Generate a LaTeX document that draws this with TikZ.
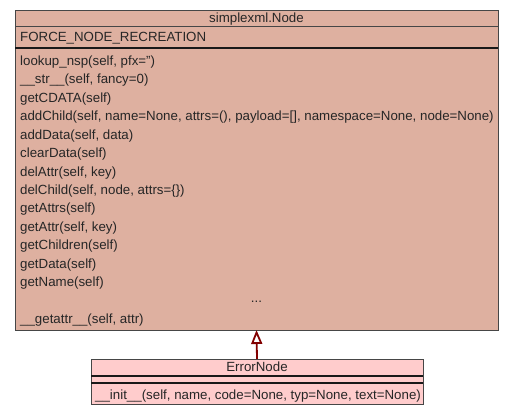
\documentclass[tikz,border=0pt]{standalone}
\usepackage{fontspec}
\setmainfont{Liberation Sans}
\usetikzlibrary{arrows.meta}
\definecolor{mainfill}{RGB}{222,176,160}
\definecolor{errfill}{RGB}{255,204,204}
\definecolor{edgegray}{RGB}{70,70,70}
\definecolor{arrowred}{RGB}{130,0,0}
\begin{document}
\begin{tikzpicture}[x=1pt,y=-1pt,
  classbox/.style={draw=edgegray,line width=1pt,anchor=north west,inner sep=0pt,outer sep=0pt},
  txt/.style={anchor=base west,inner sep=0pt,font=\fontsize{13.3}{15}\selectfont,text=black!85},
  ctxt/.style={anchor=base,inner sep=0pt,font=\fontsize{13.3}{15}\selectfont,text=black!85},
  thin divider/.style={draw=edgegray,line width=0.8pt},
  thick divider/.style={draw=black!90,line width=2pt}]
\useasboundingbox (0,0) rectangle (515,416);
% main class
\node[classbox,fill=mainfill,minimum width=483pt,minimum height=320pt] (node) at (15,10) {};
\draw[thin divider] (15,26.5) -- (498,26.5);
\draw[thick divider] (15,47.7) -- (498,47.7);
\node[ctxt] (title) at (256.5,22.3) {simplexml.Node};
\node[txt] (attr) at (20,41.7) {FORCE\_NODE\_RECREATION};
\foreach \t [count=\i from 0] in {
  {lookup\_nsp(self, pfx='')},
  {\_\_str\_\_(self, fancy=0)},
  {getCDATA(self)},
  {addChild(self, name=None, attrs=(), payload=[], namespace=None, node=None)},
  {addData(self, data)},
  {clearData(self)},
  {delAttr(self, key)},
  {delChild(self, node, attrs=\{\})},
  {getAttrs(self)},
  {getAttr(self, key)},
  {getChildren(self)},
  {getData(self)},
  {getName(self)}}
  \node[txt] (m\i) at (20,65.5+18.42*\i) {\t};
\node[ctxt] (dots) at (256.5,302) {...};
\node[txt] (mgetattr) at (20,323.5) {\_\_getattr\_\_(self, attr)};
% error class
\node[classbox,fill=errfill,minimum width=332pt,minimum height=45pt] (err) at (91,359) {};
\draw[black!90,line width=1.6pt] (91,376) -- (423,376);
\draw[black!90,line width=1.6pt] (91,383) -- (423,383);
\node[ctxt] (errtitle) at (257,371.7) {ErrorNode};
\node[txt] (errinit) at (95,399) {\_\_init\_\_(self, name, code=None, typ=None, text=None)};
% inheritance
\draw[arrowred,line width=1.8pt,-{Triangle[open,width=11pt,length=14pt]}] (err.north) -- (node.south);
\end{tikzpicture}
\end{document}
